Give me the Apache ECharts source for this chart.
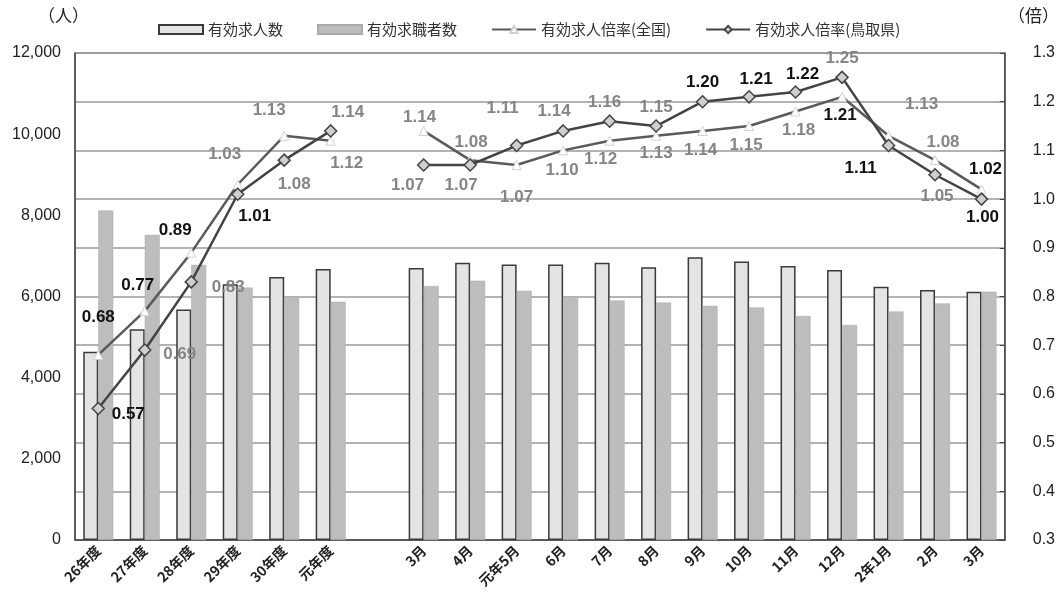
<!DOCTYPE html>
<html>
<head>
<meta charset="utf-8">
<script src="https://cdn.jsdelivr.net/npm/echarts@6/dist/echarts.min.js"></script>
<style>
  html, body { margin: 0; padding: 0; background: #fff; }
  #main { width: 1058px; height: 600px; }
</style>
</head>
<body>
<div id="main"></div>
<script>
// 区分（空欄は年度と月の区切り）
const categories = ['26年度', '27年度', '28年度', '29年度', '30年度', '元年度', '',
    '3月', '4月', '元年5月', '6月', '7月', '8月', '9月', '10月', '11月', '12月', '2年1月', '2月', '3月'];

// 有効求人数・有効求職者数（人）
const openings = [4640, 5190, 5680, 6300, 6480, 6680, null,
    6700, 6830, 6790, 6790, 6830, 6720, 6970, 6860, 6750, 6650, 6240, 6160, 6120];
const seekers = [8120, 7520, 6780, 6220, 6000, 5870, null,
    6260, 6390, 6140, 6000, 5900, 5850, 5770, 5730, 5520, 5300, 5630, 5830, 6120];

// 有効求人倍率（倍）
const ratioNational = [0.68, 0.77, 0.89, 1.03, 1.13, 1.12, null,
    1.14, 1.08, 1.07, 1.10, 1.12, 1.13, 1.14, 1.15, 1.18, 1.21, 1.13, 1.08, 1.02];
const ratioTottori = [0.57, 0.69, 0.83, 1.01, 1.08, 1.14, null,
    1.07, 1.07, 1.11, 1.14, 1.16, 1.15, 1.20, 1.21, 1.22, 1.25, 1.11, 1.05, 1.00];

// ラベルの置き場所（点からのずれ）と濃い文字かどうか
const natLabelOffset = [[0, -38], [-7, -26], [-16, -22], [-13, -30], [-15, -25], [16, 23], null,
    [-4, -14], [1, -18], [0, 32], [-1, 20], [-9, 19], [0, 18], [-2, 19], [-3, 19], [3, 19], [-2, 18], [33, -31], [8, -18], [4, -20]];
const natLabelDark = [1, 1, 1, 0, 0, 0, 0, 0, 0, 0, 0, 0, 0, 0, 0, 0, 1, 0, 0, 1];
const totLabelOffset = [[30, 6], [35, 4], [37, 5], [17, 22], [10, 24], [17, -19], null,
    [-16, 20], [-9, 20], [-14, -37], [-9, -20], [-5, -19], [0, -19], [0, -19], [7, -18], [7, -18], [0, -19], [-28, 23], [2, 22], [1, 18]];
const totLabelDark = [1, 0, 0, 1, 0, 0, 0, 0, 0, 0, 0, 0, 0, 1, 1, 1, 0, 1, 0, 1];

function withLabels(values, offsets, dark) {
    return values.map((v, i) => {
        if (v == null) return null;
        return {
            value: v,
            label: {
                offset: offsets[i],
                color: dark[i] ? '#111' : '#858585'
            }
        };
    });
}

const chart = echarts.init(document.getElementById('main'));

const lineLabel = {
    show: true,
    position: 'inside',
    fontFamily: 'Liberation Sans',
    fontSize: 17,
    fontWeight: 'bold',
    formatter: p => p.value.toFixed(2)
};

var option = {
    animation: false,
    textStyle: { fontFamily: 'Noto Sans CJK JP' },
    grid: {
        left: 75,
        right: 44,
        top: 53,
        bottom: 60,
        show: true,
        borderColor: '#555',
        borderWidth: 1
    },
    legend: {
        top: 17,
        left: 153,
        itemGap: 34,
        itemWidth: 44,
        itemHeight: 9,
        textStyle: { fontSize: 15, color: '#333', fontFamily: 'Noto Sans CJK JP' },
        data: [
            { name: '有効求人数', icon: 'rect' },
            { name: '有効求職者数', icon: 'rect' },
            '有効求人倍率(全国)',
            '有効求人倍率(鳥取県)'
        ]
    },
    graphic: [
        { type: 'text', left: 38, top: 7, style: { text: '（人）', fontSize: 17, fill: '#222', fontFamily: 'Noto Sans CJK JP' } },
        { type: 'text', left: 1008, top: 7, style: { text: '（倍）', fontSize: 17, fill: '#222', fontFamily: 'Noto Sans CJK JP' } }
    ],
    xAxis: {
        type: 'category',
        data: categories,
        axisLine: { lineStyle: { color: '#444', width: 1.5 } },
        axisTick: { inside: true, length: 5, lineStyle: { color: '#444' } },
        axisLabel: {
            interval: 0,
            rotate: 45,
            margin: 8,
            fontSize: 14,
            fontWeight: 'bold',
            color: '#222',
            fontFamily: 'Noto Sans CJK JP'
        }
    },
    yAxis: [
        {
            type: 'value',
            min: 0,
            max: 12000,
            interval: 2000,
            axisLine: { show: true, lineStyle: { color: '#444', width: 1.5 } },
            axisTick: { show: false },
            splitLine: { show: false },
            axisLabel: {
                margin: 14,
                fontSize: 16,
                color: '#222',
                fontFamily: 'Liberation Sans',
                formatter: v => v.toLocaleString('en-US')
            }
        },
        {
            type: 'value',
            min: 0.3,
            max: 1.3,
            interval: 0.1,
            axisLine: { show: true, lineStyle: { color: '#444', width: 1.5 } },
            axisTick: { show: true, inside: true, length: 5, lineStyle: { color: '#444' } },
            splitLine: { show: true, lineStyle: { color: '#9a9a9a', width: 1.5 } },
            axisLabel: {
                margin: 28,
                fontSize: 16,
                color: '#222',
                fontFamily: 'Liberation Sans',
                formatter: v => v.toFixed(1)
            }
        }
    ],
    series: [
        {
            name: '有効求人数',
            type: 'bar',
            barWidth: 15,
            barGap: '0%',
            itemStyle: { color: '#e4e4e4', borderColor: '#3a3a3a', borderWidth: 1.5 },
            data: openings
        },
        {
            name: '有効求職者数',
            type: 'bar',
            barWidth: 15,
            itemStyle: { color: '#bdbdbd', borderColor: '#aaaaaa', borderWidth: 0.5 },
            data: seekers
        },
        {
            name: '有効求人倍率(全国)',
            type: 'line',
            yAxisIndex: 1,
            z: 3,
            symbol: 'triangle',
            symbolSize: 9,
            connectNulls: false,
            lineStyle: { color: '#5a5a5a', width: 2.5 },
            itemStyle: { color: '#ffffff', borderColor: '#d0d0d0', borderWidth: 1 },
            label: lineLabel,
            data: withLabels(ratioNational, natLabelOffset, natLabelDark)
        },
        {
            name: '有効求人倍率(鳥取県)',
            type: 'line',
            yAxisIndex: 1,
            z: 4,
            symbol: 'diamond',
            symbolSize: 12,
            connectNulls: false,
            lineStyle: { color: '#444', width: 2.5 },
            itemStyle: { color: '#cfcfcf', borderColor: '#444', borderWidth: 1.5 },
            label: lineLabel,
            data: withLabels(ratioTottori, totLabelOffset, totLabelDark)
        }
    ]
};

chart.setOption(option);
</script>
</body>
</html>
